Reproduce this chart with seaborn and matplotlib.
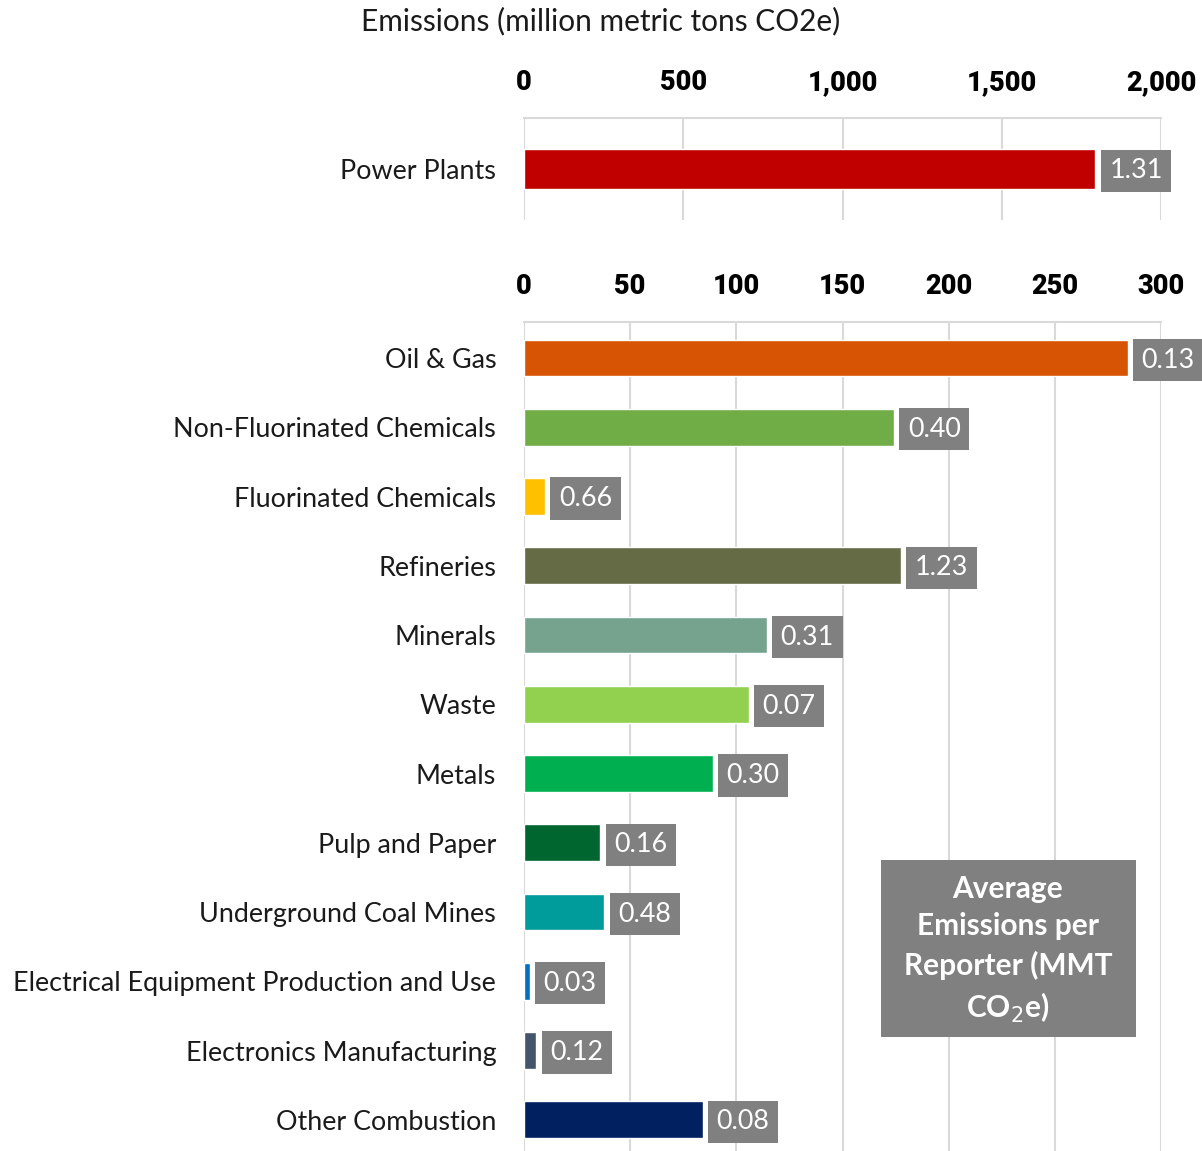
import matplotlib
matplotlib.use("Agg")
import matplotlib.pyplot as plt
from matplotlib.patches import Rectangle
import seaborn as sns
import pandas as pd

sns.set_theme(style="white")
plt.rcParams['font.family'] = ['Lato', 'DejaVu Sans']

# ---- data ----
top_sector = ["Power Plants"]
top_emissions = [1794]
top_avg = ["1.31"]
top_colors = ["#C00000"]

sectors = ["Oil & Gas", "Non-Fluorinated Chemicals", "Fluorinated Chemicals", "Refineries",
           "Minerals", "Waste", "Metals", "Pulp and Paper", "Underground Coal Mines",
           "Electrical Equipment Production and Use", "Electronics Manufacturing",
           "Other Combustion"]
emissions = [284.3, 174.2, 9.9, 177.6, 114.3, 105.8, 88.8, 35.9, 37.8, 2.7, 5.8, 84.1]
avg_per_reporter = ["0.13", "0.40", "0.66", "1.23", "0.31", "0.07", "0.30", "0.16",
                    "0.48", "0.03", "0.12", "0.08"]
colors = ["#D75404", "#70AD47", "#FFC000", "#646B45", "#75A38E", "#92D050", "#00B050",
          "#00662F", "#009B9B", "#0070C0", "#44546A", "#002060"]

top_ticks = [0, 500, 1000, 1500, 2000]
bottom_ticks = [0, 50, 100, 150, 200, 250, 300]

GRID = "#D9D9D9"
LABEL_BG = "#808080"
FS = 19.4

fig = plt.figure(figsize=(12.02, 11.51), dpi=100)
L, R = 524 / 1202, 1161 / 1202
ax_top = fig.add_axes([L, 1 - 220 / 1151, R - L, 102 / 1151])
ax_bot = fig.add_axes([L, 0, R - L, 1 - 322 / 1151])

def style(ax, xmax, ticks, fmt):
    ax.set_xlim(0, xmax)
    ax.set_xticks(ticks)
    ax.set_xticklabels([fmt(t) for t in ticks], fontweight="heavy", fontsize=19.5,
                       family=["Roboto", "DejaVu Sans"], color="black")
    ax.xaxis.tick_top()
    ax.tick_params(axis="x", length=0, pad=15.5)
    ax.tick_params(axis="y", length=0, pad=20, labelsize=FS, labelcolor="#1a1a1a")
    ax.grid(axis="x", color=GRID, linewidth=1.5)
    ax.set_axisbelow(True)
    for s in ["left", "right", "bottom"]:
        ax.spines[s].set_visible(False)
    ax.spines["top"].set_color(GRID)
    ax.spines["top"].set_linewidth(1.5)
    ax.set_xlabel("")
    ax.set_ylabel("")

def label_bars(ax, vals, labels):
    for i, (v, t) in enumerate(zip(vals, labels)):
        ax.annotate(t, xy=(v, i), xytext=(14, -2), textcoords="offset pixels",
                    ha="left", va="center", fontsize=FS, color="white",
                    bbox=dict(boxstyle="square,pad=0.32", fc=LABEL_BG, ec="none"),
                    annotation_clip=False)

df_top = pd.DataFrame({"sector": top_sector, "emissions": top_emissions})
sns.barplot(data=df_top, x="emissions", y="sector", hue="sector", palette=top_colors,
            legend=False, ax=ax_top, width=0.55, saturation=1)
ax_top.set_ylim(0.7, -0.7)
style(ax_top, 2000, top_ticks, lambda t: f"{t:,}")
label_bars(ax_top, top_emissions, top_avg)

df = pd.DataFrame({"sector": sectors, "emissions": emissions})
sns.barplot(data=df, x="emissions", y="sector", hue="sector", palette=colors,
            legend=False, ax=ax_bot, width=0.53, saturation=1)
ax_bot.set_ylim(11.45, -0.52)
style(ax_bot, 300, bottom_ticks, lambda t: f"{t}")
label_bars(ax_bot, emissions, avg_per_reporter)

fig.text(601 / 1202, 1 - 21 / 1151, "Emissions (million metric tons CO2e)",
         ha="center", va="center", fontsize=21.5, color="#1a1a1a")

fig.patches.append(Rectangle((881 / 1202, 1 - 1037 / 1151), 255 / 1202, 177 / 1151,
                             transform=fig.transFigure, fc=LABEL_BG, ec="none", zorder=5))
fig.text(1008 / 1202, 1 - 950 / 1151, "Average\nEmissions per\nReporter (MMT\nCO$_2$e)",
         ha="center", va="center", fontsize=21.5, fontweight="bold", color="white",
         linespacing=1.42, zorder=6)

fig.savefig("out.png", dpi=100)
